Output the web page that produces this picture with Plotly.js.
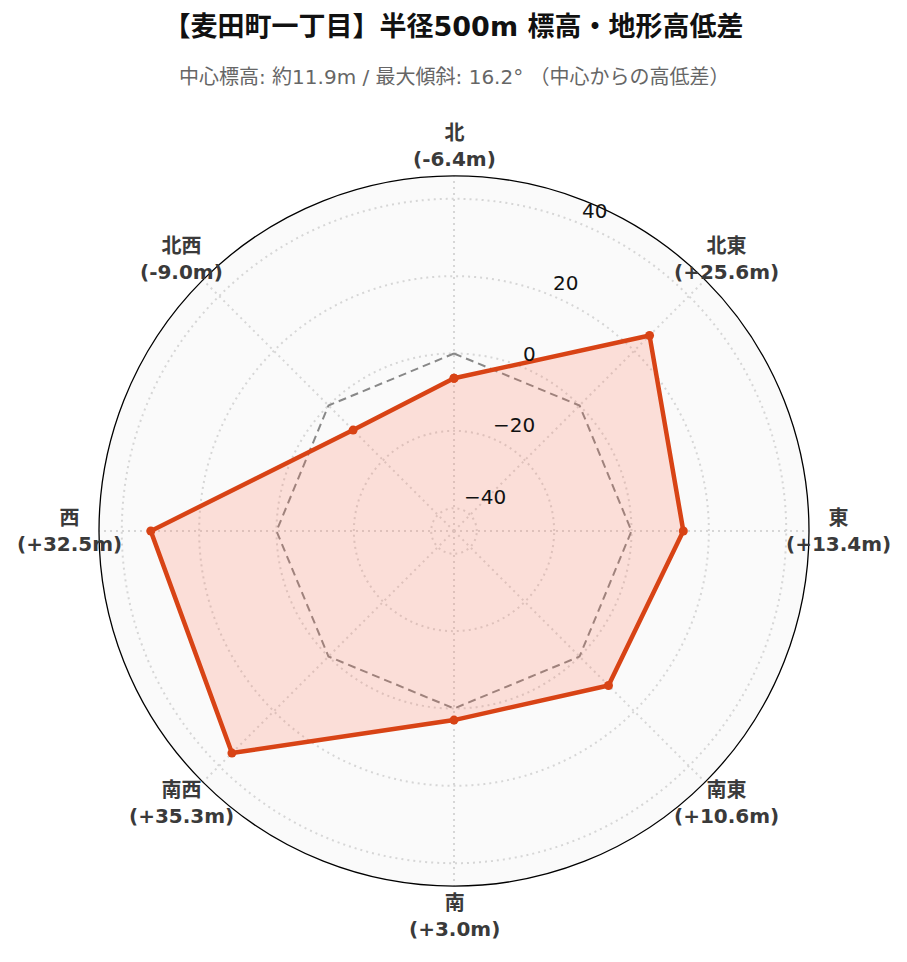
<!DOCTYPE html>
<html><head><meta charset="utf-8">
<script src="https://cdn.plot.ly/plotly-3.0.1.min.js"></script>
<style>body{margin:0;padding:0;background:#fff}#chart{width:907px;height:962px}</style>
</head><body><div id="chart"></div>
<script>
const directions = ['北','北東','東','南東','南','南西','西','北西'];
const diffs = [-6.4, 25.6, 13.4, 10.6, 3.0, 35.3, 32.5, -9.0];
const refZero = [0,0,0,0,0,0,0,0];
const radialTicks = [-40,-20,0,20,40];
const titleText = '【麦田町一丁目】半径500m 標高・地形高低差';
const subtitleText = '中心標高: 約11.9m / 最大傾斜: 16.2° （中心からの高低差）';

const fmt = v => (v>0?'+':'') + v.toFixed(1) + 'm';
const theta = directions.concat([directions[0]]);
const font = 'DejaVu Sans, Noto Sans CJK JP, sans-serif';
const rmax = Math.max(...diffs.map(Math.abs))*1.3;
const radialAngle = 67.5;

const traces = [
 {type:'scatterpolar', r:refZero.concat([refZero[0]]), theta:theta, mode:'lines',
  line:{color:'#888888', width:2, dash:'8px,5px'}, hoverinfo:'skip', showlegend:false},
 {type:'scatterpolar', r:diffs.concat([diffs[0]]), theta:theta, mode:'lines+markers',
  fill:'toself', fillcolor:'rgba(255,110,80,0.2)',
  line:{color:'#d84315', width:4.5}, marker:{color:'#d84315', size:9}, showlegend:false}
];

// direction labels placed just outside the polar circle (centered, as in the reference)
const labelR = 0.542;
const dirAnn = directions.map((d,i)=>{
  const a = (90 - i*360/directions.length)*Math.PI/180;
  return {text:'<b>'+d+'</b><br><b>('+fmt(diffs[i])+')</b>', xref:'paper', yref:'paper',
    x:0.5+labelR*Math.cos(a), y:0.5+labelR*Math.sin(a), xanchor:'center', yanchor:'middle',
    showarrow:false, font:{size:20, color:'#3a3a3a', family:font}};
});
// radial tick labels anchored left-bottom at the tick position along the radial axis
const ra = radialAngle*Math.PI/180;
const radAnn = radialTicks.map(v=>{
  const f = 0.5*(v + rmax)/(2*rmax);
  return {text:(v<0?'\u2212'+Math.abs(v):String(v)), xref:'paper', yref:'paper',
    x:0.5+f*Math.cos(ra), y:0.5+f*Math.sin(ra), xanchor:'left', yanchor:'bottom',
    showarrow:false, font:{size:20, color:'#111', family:font}, borderpad:0};
});

const layout = {
 width:907, height:962, paper_bgcolor:'#ffffff',
 margin:{l:99, r:98, t:176, b:76},
 font:{family:font},
 title:{text:'<b>'+titleText+'</b>', font:{size:27, color:'#111', family:font},
   x:0.5, xanchor:'center', y:1-27/962, yanchor:'middle', yref:'container'},
 annotations:[{text:subtitleText, xref:'paper', yref:'paper', x:0.5, y:(710+99)/710,
   xanchor:'center', yanchor:'middle', showarrow:false, font:{size:20, color:'#666', family:font}}]
   .concat(dirAnn).concat(radAnn),
 polar:{
  bgcolor:'#fafafa',
  domain:{x:[0,1], y:[0,1]},
  angularaxis:{direction:'clockwise', rotation:90, categoryorder:'array', categoryarray:directions,
    showticklabels:false,
    showline:true, linecolor:'#000', linewidth:1.3, ticks:'',
    gridcolor:'#d6d6d6', griddash:'2px,4px', gridwidth:1.5},
  radialaxis:{range:[-rmax, rmax], angle:radialAngle, tickmode:'array', tickvals:radialTicks,
    showticklabels:false, showline:false, ticks:'',
    gridcolor:'#d6d6d6', griddash:'2px,4px', gridwidth:1.5}
 }
};
Plotly.newPlot('chart', traces, layout, {displayModeBar:false});
</script></body></html>
